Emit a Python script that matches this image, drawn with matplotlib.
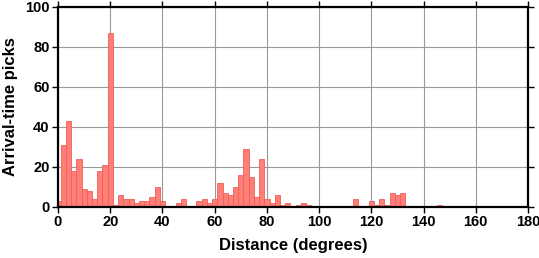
import numpy as np
import matplotlib.pyplot as plt

# bin centres (degrees) and counts, 2-degree bins
bin_centers = np.arange(0, 148, 2)
picks = [3, 31, 43, 18, 24, 9, 8, 4, 18, 21,
         87, 1, 6, 4, 4, 2, 3, 3, 5, 10,
         3, 0, 0, 2, 4, 0, 0, 3, 4, 2,
         4, 12, 7, 6, 10, 16, 29, 15, 5, 24,
         4, 2, 6, 1, 2, 0, 1, 2, 1, 0,
         0, 0, 0, 0, 0, 0, 0, 4, 0, 0,
         3, 1, 4, 1, 7, 6, 7, 0, 0, 0,
         0, 0, 0, 1]

plt.rcParams['font.family'] = ['Liberation Sans', 'DejaVu Sans']
plt.rcParams['font.weight'] = 'bold'

fig = plt.figure(figsize=(5.39, 2.58), dpi=100)
ax = fig.add_axes([58 / 539, 51 / 258, 470 / 539, 200 / 258])

ax.bar(bin_centers, picks, width=2, color='#ff7f78', edgecolor='#f0605a',
       linewidth=0.6, zorder=2)

ax.set_xlim(0, 180)
ax.set_ylim(0, 100)
ax.set_xticks(np.arange(0, 181, 20))
ax.set_yticks(np.arange(0, 101, 20))
ax.grid(True, color='#999999', linewidth=0.8, zorder=0)
ax.set_axisbelow(True)

for s in ax.spines.values():
    s.set_linewidth(1.6)
    s.set_zorder(3)

ax.tick_params(direction='out', length=4, width=1, labelsize=10.5,
               top=True, right=True, pad=2)
for lab in ax.get_xticklabels() + ax.get_yticklabels():
    lab.set_fontweight('bold')

ax.set_xlabel('Distance (degrees)', fontsize=12, fontweight='bold', labelpad=6)
ax.set_ylabel('Arrival-time picks', fontsize=12, fontweight='bold', labelpad=5)

fig.savefig('out.png', dpi=100)
